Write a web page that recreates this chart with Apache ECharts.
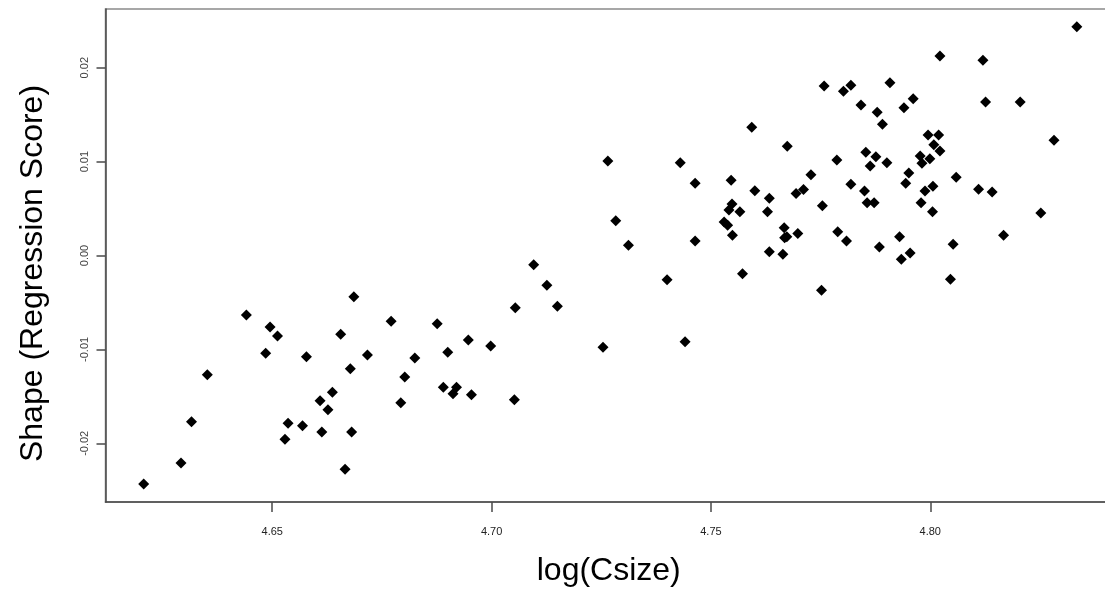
<!DOCTYPE html>
<html>
<head>
<meta charset="utf-8">
<script src="https://cdn.jsdelivr.net/npm/echarts@6/dist/echarts.min.js"></script>
<style>
html,body{margin:0;padding:0;background:#fff;}
#chart{width:1105px;height:590px;}
</style>
</head>
<body>
<div id="chart"></div>
<script>
// log(Csize) values
var xValues = [4.6441,4.6495,4.6512,4.6485,4.6352,4.6686,4.6771,4.6656,4.6717,4.6578,4.6678,4.6637,4.6609,4.6627,4.6536,4.6569,4.6613,4.6681,4.6529,4.6316,4.6292,4.6207,4.6666,4.6793,
4.7312,4.7096,4.7126,4.7054,4.7150,4.6876,4.6947,4.6900,4.6998,4.6825,4.7254,4.6802,4.6890,4.6920,4.6912,4.6954,4.7052,
4.7593,4.7674,4.7787,4.7265,4.7430,4.7464,4.7546,4.7728,4.7600,4.7633,4.7694,4.7711,4.7548,4.7541,4.7566,4.7629,4.7754,4.7789,4.7283,4.7530,4.7538,4.7549,4.7667,4.7668,4.7673,4.7698,4.7633,4.7664,4.7572,4.7752,4.7464,4.7400,4.7441,
4.8334,4.8022,4.8120,4.7758,4.7802,4.7819,4.7908,4.7842,4.7879,4.7891,4.7940,4.7961,4.8126,4.8205,4.7853,4.7876,4.7863,4.7901,4.7995,4.8019,4.8008,4.8022,4.7977,4.7999,4.7981,4.8282,4.7819,4.7850,4.7856,4.7872,4.7951,4.7944,4.8059,4.7988,4.8006,4.7979,4.8005,4.8110,4.8141,4.8252,4.7809,4.7884,4.7930,4.7934,4.7954,4.8052,4.8167,4.8046];
// Shape (Regression Score) values
var yValues = [-0.00634,-0.00761,-0.00857,-0.01042,-0.01269,-0.00439,-0.00701,-0.00839,-0.01060,-0.01078,-0.01206,-0.01457,-0.01546,-0.01642,-0.01787,-0.01813,-0.01880,-0.01880,-0.01957,-0.01770,-0.02210,-0.02434,-0.02277,-0.01568,
0.00109,-0.00098,-0.00317,-0.00556,-0.00541,-0.00726,-0.00900,-0.01031,-0.00964,-0.01092,-0.00978,-0.01294,-0.01404,-0.01404,-0.01472,-0.01482,-0.01536,
0.01365,0.01163,0.01017,0.01006,0.00988,0.00769,0.00801,0.00860,0.00690,0.00609,0.00660,0.00703,0.00548,0.00485,0.00466,0.00466,0.00530,0.00252,0.00371,0.00357,0.00322,0.00215,0.00295,0.00190,0.00200,0.00234,0.00040,0.00013,-0.00194,-0.00371,0.00154,-0.00258,-0.00918,
0.02437,0.02125,0.02079,0.01805,0.01749,0.01813,0.01840,0.01603,0.01525,0.01397,0.01574,0.01670,0.01635,0.01635,0.01099,0.01052,0.00953,0.00988,0.01283,0.01283,0.01180,0.01113,0.01060,0.01031,0.00982,0.01227,0.00758,0.00687,0.00562,0.00562,0.00879,0.00769,0.00833,0.00687,0.00737,0.00562,0.00466,0.00705,0.00676,0.00453,0.00154,0.00091,0.00200,-0.00040,0.00027,0.00119,0.00215,-0.00253];

var xTicks = [4.65, 4.70, 4.75, 4.80];
var yTicks = [-0.02, -0.01, 0.00, 0.01, 0.02];
var xTitle = 'log(Csize)';
var yTitle = 'Shape (Regression Score)';

var points = xValues.map(function (x, i) { return [x, yValues[i]]; });

var chart = echarts.init(document.getElementById('chart'), null, {renderer: 'canvas'});
var frameColor = '#4a4a4a';
chart.setOption({
  animation: false,
  backgroundColor: '#ffffff',
  grid: {
    left: 105.5, right: -3, top: 9, bottom: 88,
    containLabel: false,
    outerBoundsMode: 'none',
    show: true, borderColor: '#8a8a8a', borderWidth: 1.5, backgroundColor: 'transparent'
  },
  xAxis: {
    type: 'value',
    min: 4.61199, max: 4.84051,
    name: xTitle,
    nameLocation: 'middle',
    nameGap: 53,
    nameTextStyle: {fontFamily: 'Liberation Sans', fontSize: 32, color: '#000', padding: [0, 0, 0, 4]},
    splitLine: {show: false},
    axisLine: {show: true, onZero: false, lineStyle: {color: frameColor, width: 1.5}},
    axisTick: {show: true, length: 10, lineStyle: {color: frameColor, width: 1.5}, customValues: xTicks},
    axisLabel: {
      customValues: xTicks, margin: 24,
      fontFamily: 'Liberation Sans', fontSize: 11, color: '#222',
      formatter: function (v) { return v.toFixed(2); }
    }
  },
  yAxis: {
    type: 'value',
    min: -0.02625, max: 0.02625,
    name: yTitle,
    nameLocation: 'middle',
    nameGap: 56,
    nameRotate: 90,
    nameTextStyle: {fontFamily: 'Liberation Sans', fontSize: 32, color: '#000', padding: [0, 36, 0, 0]},
    splitLine: {show: false},
    axisLine: {show: true, onZero: false, lineStyle: {color: frameColor, width: 1.5}},
    axisTick: {show: true, length: 9, lineStyle: {color: frameColor, width: 1.5}, customValues: yTicks},
    axisLabel: {
      customValues: yTicks, rotate: 90, margin: 15,
      fontFamily: 'Liberation Sans', fontSize: 11, color: '#444',
      formatter: function (v) { return v.toFixed(2); }
    }
  },
  series: [{
    type: 'scatter',
    data: points,
    symbol: 'diamond',
    symbolSize: [11, 11],
    itemStyle: {color: '#000', opacity: 1}
  }]
});
</script>
</body>
</html>
